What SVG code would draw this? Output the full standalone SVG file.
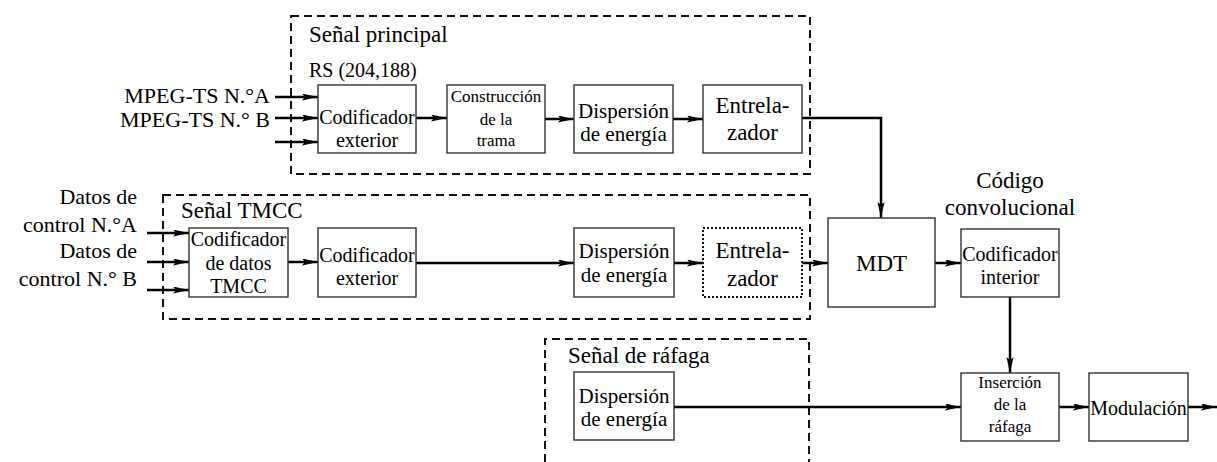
<svg xmlns="http://www.w3.org/2000/svg" width="1217" height="462" viewBox="0 0 1217 462" font-family="'Liberation Serif', 'Times New Roman', serif">
<style>
  .bg{fill:#fff}
  .box{fill:#fff;stroke:#333;stroke-width:1.4}
  .dot{fill:#fff;stroke:#111;stroke-width:2;stroke-dasharray:2 2}
  .grp{fill:none;stroke:#111;stroke-width:2;stroke-dasharray:8 5}
  .con{fill:none;stroke:#000;stroke-width:2.5;marker-end:url(#ah)}
  text{font-family:'Liberation Serif', 'Times New Roman', serif;fill:#000}
  .t{font-size:20px;text-anchor:middle}
  .td{font-size:21px;text-anchor:middle}
  .tb{font-size:23px;text-anchor:middle}
  .ts{font-size:17px;text-anchor:middle}
  .lab{font-size:23px}
  .in{font-size:22px;text-anchor:end}
</style>
<defs>
  <marker id="ah" markerUnits="userSpaceOnUse" markerWidth="18" markerHeight="8" refX="16" refY="3.5" orient="auto">
    <path d="M0,0 L16,3.5 L0,7 L3,3.5 z" fill="#000"/>
  </marker>
</defs>
<rect class="bg" width="1217" height="462"/>

<g id="groups">
  <rect class="grp" x="291" y="16" width="519" height="158"/>
  <rect class="grp" x="163" y="195" width="647" height="124"/>
  <path class="grp" d="M545,462 V339 H809 V462"/>
  <text class="lab" x="309" y="42">Señal principal</text>
  <text x="309" y="77" style="font-size:20px">RS (204,188)</text>
  <text class="lab" x="181" y="218">Señal TMCC</text>
  <text class="lab" x="568" y="363">Señal de ráfaga</text>
  <text class="lab" x="1010" y="188" text-anchor="middle">Código</text>
  <text class="lab" x="1010" y="215" text-anchor="middle">convolucional</text>
</g>

<g id="inputs">
  <text class="in" x="270" y="103">MPEG-TS N.°A</text>
  <text class="in" x="270" y="127">MPEG-TS N.° B</text>
  <text class="in" x="137" y="204">Datos de</text>
  <text class="in" x="137" y="232">control N.°A</text>
  <text class="in" x="137" y="258">Datos de</text>
  <text class="in" x="137" y="286">control N.° B</text>
</g>

<g id="connectors">
  <path class="con" d="M275,97 H318"/>
  <path class="con" d="M275,118 H318"/>
  <path class="con" d="M275,142 H318"/>
  <path class="con" d="M416,118 H447"/>
  <path class="con" d="M545,119 H574"/>
  <path class="con" d="M673,119 H703"/>
  <path class="con" d="M802,118 H881 V218"/>
  <path class="con" d="M147,233 H189"/>
  <path class="con" d="M147,262 H189"/>
  <path class="con" d="M147,290 H189"/>
  <path class="con" d="M288,262 H318"/>
  <path class="con" d="M416,263 H574"/>
  <path class="con" d="M674,263 H703"/>
  <path class="con" d="M802,263 H828"/>
  <path class="con" d="M935,263 H961"/>
  <path class="con" d="M1010,297 V373"/>
  <path class="con" d="M674,407 H961"/>
  <path class="con" d="M1059,407 H1089"/>
  <path class="con" d="M1188,407 H1217"/>
</g>

<g id="cod-ext-1">
  <rect class="box" x="318" y="85" width="98" height="68"/>
  <text class="t" x="367" y="124">Codificador</text>
  <text class="t" x="367" y="147">exterior</text>
</g>
<g id="construccion">
  <rect class="box" x="447" y="85" width="98" height="68"/>
  <text class="ts" x="496" y="102">Construcción</text>
  <text class="ts" x="496" y="125">de la</text>
  <text class="ts" x="496" y="146">trama</text>
</g>
<g id="dispersion-1">
  <rect class="box" x="574" y="85" width="99" height="68"/>
  <text class="td" x="623.5" y="118">Dispersión</text>
  <text class="td" x="623.5" y="141">de energía</text>
</g>
<g id="entrelazador-1">
  <rect class="box" x="703" y="85" width="99" height="68"/>
  <text class="tb" x="752.5" y="113">Entrela-</text>
  <text class="tb" x="752.5" y="140">zador</text>
</g>

<g id="cod-tmcc">
  <rect class="box" x="189" y="228" width="99" height="69"/>
  <text class="t" x="238.5" y="246">Codificador</text>
  <text class="t" x="238.5" y="270">de datos</text>
  <text class="t" x="238.5" y="293">TMCC</text>
</g>
<g id="cod-ext-2">
  <rect class="box" x="318" y="228" width="98" height="69"/>
  <text class="t" x="367" y="262">Codificador</text>
  <text class="t" x="367" y="285">exterior</text>
</g>
<g id="dispersion-2">
  <rect class="box" x="574" y="228" width="100" height="69"/>
  <text class="td" x="624" y="258">Dispersión</text>
  <text class="td" x="624" y="282">de energía</text>
</g>
<g id="entrelazador-2">
  <rect class="dot" x="703" y="228" width="99" height="69"/>
  <text class="tb" x="752.5" y="258">Entrela-</text>
  <text class="tb" x="752.5" y="286">zador</text>
</g>

<g id="mdt">
  <rect class="box" x="828" y="218" width="107" height="89"/>
  <text class="tb" x="881.5" y="271">MDT</text>
</g>
<g id="cod-int">
  <rect class="box" x="961" y="229" width="98" height="68"/>
  <text class="t" x="1010" y="261">Codificador</text>
  <text class="t" x="1010" y="284">interior</text>
</g>

<g id="dispersion-3">
  <rect class="box" x="574" y="372" width="100" height="68"/>
  <text class="td" x="624" y="403">Dispersión</text>
  <text class="td" x="624" y="426">de energía</text>
</g>
<g id="insercion">
  <rect class="box" x="961" y="373" width="98" height="68"/>
  <text class="ts" x="1010" y="388">Inserción</text>
  <text class="ts" x="1010" y="410">de la</text>
  <text class="ts" x="1010" y="432">ráfaga</text>
</g>
<g id="modulacion">
  <rect class="box" x="1089" y="373" width="99" height="68"/>
  <text class="t" x="1138.5" y="415">Modulación</text>
</g>
</svg>
